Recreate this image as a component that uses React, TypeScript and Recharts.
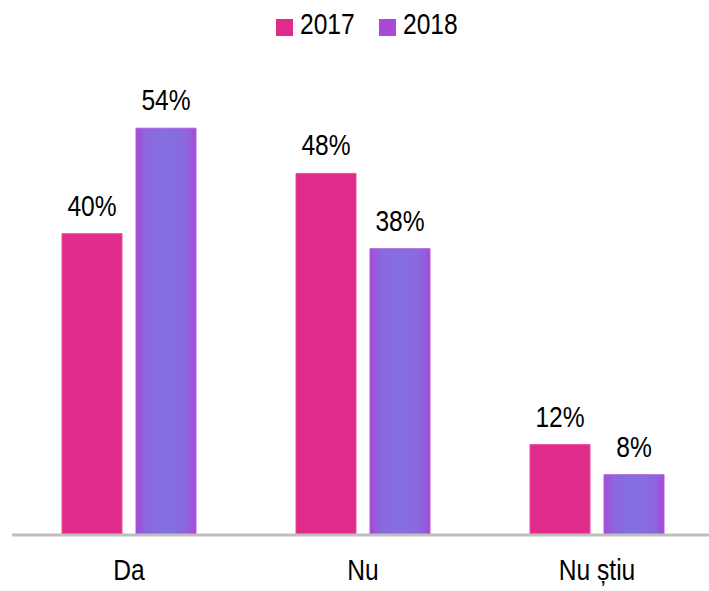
import { Bar, BarChart, LabelList, Legend, XAxis, YAxis } from "recharts";

const categories = ["Da", "Nu", "Nu știu"];
const values2017 = [40, 48, 12];
const values2018 = [54, 38, 8];

const FONT = '"Liberation Sans", Arial, sans-serif';
const NARROW = 0.82;
const PINK = "#E02B8A";
const PURPLE = "#A84AD6";
const LEGEND_H = 40;

const data = categories.map((name, i) => ({
  name,
  y2017: values2017[i],
  y2018: values2018[i],
}));

// condensed text, the original uses a narrow face
function NarrowText({ x, y, children }: any) {
  return (
    <text
      transform={`translate(${x},${y}) scale(${NARROW},1)`}
      textAnchor="middle"
      fontFamily={FONT}
      fontSize={30}
      fill="#000"
    >
      {children}
    </text>
  );
}

function CategoryTick(props: any) {
  const { x, y, payload } = props;
  return <NarrowText x={x} y={y + 37}>{payload.value}</NarrowText>;
}

function ValueLabel(props: any) {
  const { x, y, width, value } = props;
  return <NarrowText x={x + width / 2} y={y - 18}>{`${value}%`}</NarrowText>;
}

function TopLegend() {
  const items = [
    { label: "2017", color: PINK },
    { label: "2018", color: PURPLE },
  ];
  return (
    <div style={{ height: LEGEND_H, position: "relative", fontFamily: FONT, fontSize: 30 }}>
      {items.map((it, i) => (
        <div key={it.label} style={{ position: "absolute", left: 276 + i * 103, top: 0, height: LEGEND_H, display: "flex", alignItems: "center" }}>
          <span style={{ display: "inline-block", width: 17, height: 17, background: it.color, marginTop: 14 }} />
          <span style={{ display: "inline-block", transform: `scaleX(${NARROW})`, transformOrigin: "left center", marginLeft: 7, lineHeight: "34px", marginTop: 8 }}>
            {it.label}
          </span>
        </div>
      ))}
    </div>
  );
}

export default function App() {
  return (
    <div style={{ position: "absolute", left: 0, top: 0, width: 709, height: 591, overflow: "hidden", background: "#fff" }}>
      <BarChart
        width={720}
        height={591}
        data={data}
        margin={{ top: 83 - LEGEND_H, right: 6, bottom: 0, left: 12 }}
        barCategoryGap={50}
        barGap={14}
      >
        <defs>
          <linearGradient id="purpleGrad" x1="0" y1="0" x2="1" y2="0">
            <stop offset="0" stopColor="#A548D8" />
            <stop offset="0.15" stopColor="#8D66DE" />
            <stop offset="0.5" stopColor="#8470E0" />
            <stop offset="0.85" stopColor="#8D66DE" />
            <stop offset="1" stopColor="#A548D8" />
          </linearGradient>
        </defs>
        <Legend verticalAlign="top" align="left" content={<TopLegend />} wrapperStyle={{ top: 0, left: 0, width: 709, height: LEGEND_H }} />
        <XAxis
          dataKey="name"
          axisLine={{ stroke: "#BFBFBF", strokeWidth: 3 }}
          tickLine={false}
          height={56}
          tick={<CategoryTick />}
        />
        <YAxis hide domain={[0, 60]} />
        <Bar dataKey="y2017" fill={PINK} stroke="#EC4D9F" strokeWidth={1} barSize={60} isAnimationActive={false}>
          <LabelList dataKey="y2017" content={<ValueLabel />} />
        </Bar>
        <Bar dataKey="y2018" fill="url(#purpleGrad)" stroke="#B05CDC" strokeWidth={1} barSize={60} isAnimationActive={false}>
          <LabelList dataKey="y2018" content={<ValueLabel />} />
        </Bar>
      </BarChart>
    </div>
  );
}
